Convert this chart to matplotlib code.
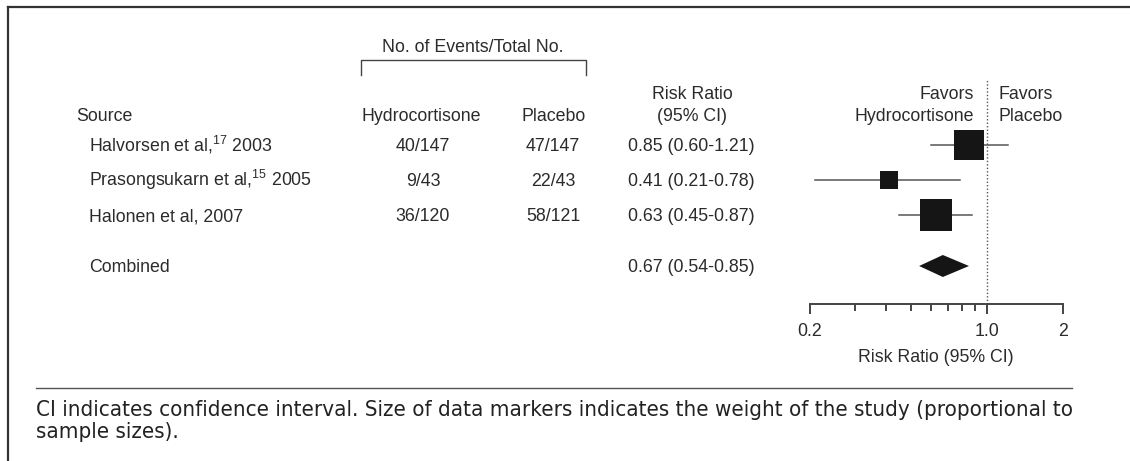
import matplotlib.pyplot as plt
import numpy as np
from matplotlib.lines import Line2D
from matplotlib.patches import Polygon
from matplotlib.ticker import NullFormatter

plt.rcParams['font.family'] = 'Liberation Sans'
plt.rcParams['mathtext.fontset'] = 'custom'
plt.rcParams['mathtext.rm'] = 'Liberation Sans'
plt.rcParams['mathtext.it'] = 'Liberation Sans:italic'

# Trials included in the meta-analysis
studies = ['Halvorsen et al,$^{17}$ 2003',
           'Prasongsukarn et al,$^{15}$ 2005',
           'Halonen et al, 2007']
hydro_events = ['40/147', '9/43', '36/120']
placebo_events = ['47/147', '22/43', '58/121']
rr = [0.85, 0.41, 0.63]
rr_lo = [0.60, 0.21, 0.45]
rr_hi = [1.21, 0.78, 0.87]
weights = [39, 14, 47]  # study weight (%), sets marker area

combined_rr = 0.67
combined_lo = 0.54
combined_hi = 0.85

axis_ticks = [0.2, 1.0, 2]
axis_tick_labels = ['0.2', '1.0', '2']
minor_ticks = [0.3, 0.4, 0.5, 0.6, 0.7, 0.8, 0.9]

W, H = 1130, 461
TXT = '#2b2b2b'
FS = 12.8

fig = plt.figure(figsize=(W / 100, H / 100), dpi=100)


def fx(x):
    return x / W


def fy(y):
    return 1 - y / H


def put(x, y, s, **kw):
    kw.setdefault('fontsize', FS)
    kw.setdefault('color', TXT)
    kw.setdefault('va', 'baseline')
    return fig.text(fx(x), fy(y), s, **kw)


# frame lines on the top and left edges
fig.add_artist(Line2D([fx(8), fx(8)], [fy(7), 0], color='#333333', lw=1.6))
fig.add_artist(Line2D([fx(8), 1], [fy(7), fy(7)], color='#333333', lw=1.6))

# column headers
put(473, 52, 'No. of Events/Total No.', ha='center')
fig.add_artist(Line2D([fx(361), fx(361), fx(586), fx(586)],
                      [fy(75), fy(60), fy(60), fy(75)], color='#444444', lw=1.0))
put(76, 121, 'Source')
put(421, 121, 'Hydrocortisone', ha='center')
put(554, 121, 'Placebo', ha='center')
put(692, 99, 'Risk Ratio', ha='center')
put(692, 121, '(95% CI)', ha='center')
put(974, 99, 'Favors', ha='right')
put(974, 121, 'Hydrocortisone', ha='right')
put(998, 99, 'Favors')
put(998, 121, 'Placebo')

# per-study rows
row_y = [145 + 35 * i for i in range(len(studies))]
comb_y = 266
for i, y in enumerate(row_y):
    put(89, y + 6, studies[i])
    put(423, y + 6, hydro_events[i], ha='center')
    put(553, y + 6, placebo_events[i], ha='center')
    put(691, y + 6, f'{rr[i]:.2f} ({rr_lo[i]:.2f}-{rr_hi[i]:.2f})', ha='center')
put(89, comb_y + 6, 'Combined')
put(691, comb_y + 6, f'{combined_rr:.2f} ({combined_lo:.2f}-{combined_hi:.2f})', ha='center')

# forest plot panel: y data units are pixel rows
top, bottom = 80, 304
ax = fig.add_axes([fx(810), fy(bottom), 253 / W, (bottom - top) / H])
ax.set_xscale('log')
ax.set_xlim(0.2, 2)
ax.set_ylim(bottom, top)
for side in ['top', 'left', 'right']:
    ax.spines[side].set_visible(False)
ax.spines['bottom'].set_color('#444444')
ax.spines['bottom'].set_linewidth(1.4)
ax.set_yticks([])
ax.set_xticks(axis_ticks, labels=axis_tick_labels)
ax.set_xticks(minor_ticks, minor=True)
ax.xaxis.set_minor_formatter(NullFormatter())
ax.tick_params(axis='x', which='major', length=7, width=1.4, color='#444444',
               labelsize=FS, labelcolor=TXT, pad=7)
ax.tick_params(axis='x', which='minor', length=5, width=1.4, color='#444444')
ax.patch.set_alpha(0)

ax.axvline(1.0, color='#555555', lw=1.0, ls=(0, (1, 1.5)))

for i, y in enumerate(row_y):
    ax.plot([rr_lo[i], rr_hi[i]], [y, y], color='#555555', lw=1.1, zorder=2)
    side = 4.81 * np.sqrt(weights[i]) * 0.72
    ax.plot(rr[i], y, marker='s', ms=side, mew=0, color='#151515', zorder=3, clip_on=False)

ax.add_patch(Polygon([(combined_lo, comb_y), (combined_rr, comb_y - 11),
                      (combined_hi, comb_y), (combined_rr, comb_y + 11)],
                     closed=True, color='#151515', lw=0))

put(936, 362, 'Risk Ratio (95% CI)', ha='center')

# footnote under a thin rule, set in a condensed face
fig.add_artist(Line2D([fx(36), fx(1072)], [fy(388), fy(388)], color='#555555', lw=1.0))
note_kw = dict(family='DejaVu Sans', fontstretch='condensed', color='#222222')
line1 = ('CI indicates confidence interval. Size of data markers indicates the weight '
         'of the study (proportional to')
t1 = put(36, 416, line1, fontsize=13, **note_kw)
renderer = fig.canvas.get_renderer()
w1 = t1.get_window_extent(renderer).width
note_fs = 13 * 1034 / w1
t1.set_fontsize(note_fs)
put(36, 438, 'sample sizes).', fontsize=note_fs, **note_kw)

fig.savefig('out.png', dpi=100)
